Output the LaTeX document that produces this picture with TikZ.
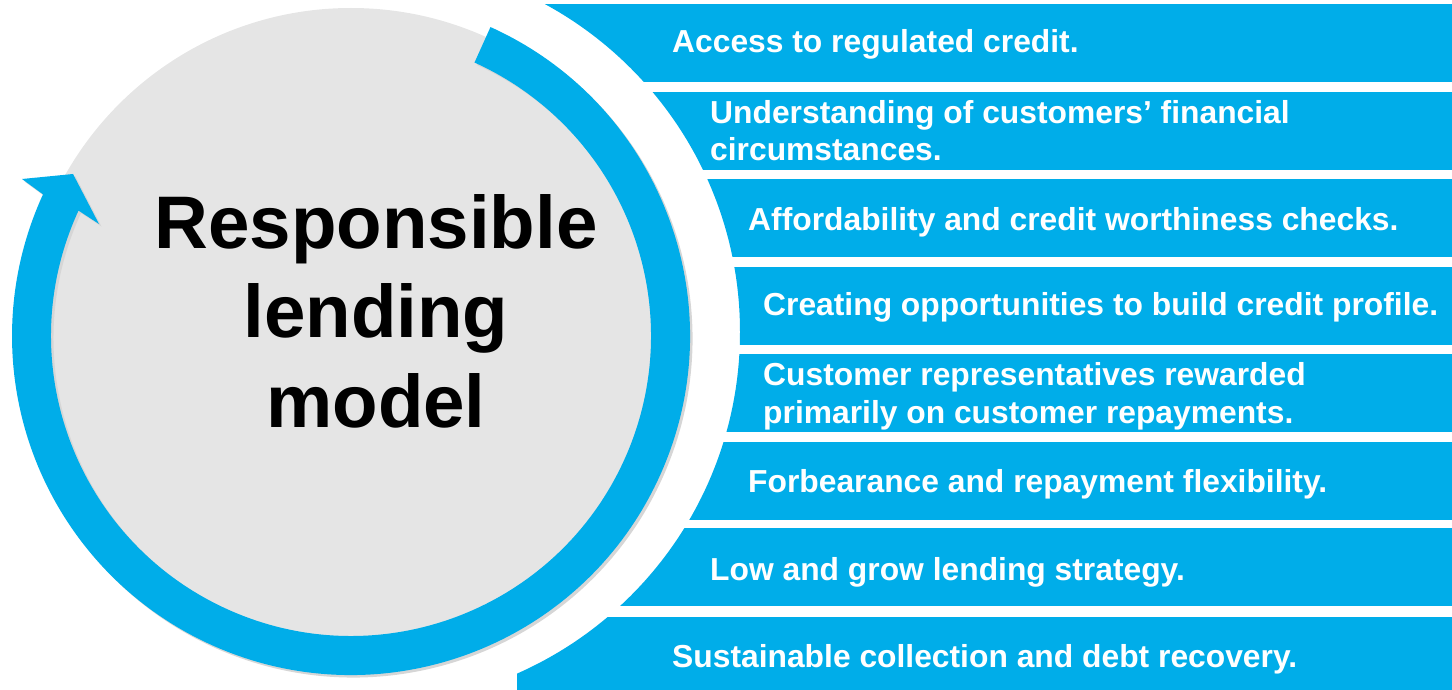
\documentclass[tikz,border=0pt]{standalone}
\usepackage{fontspec}
\setmainfont{Liberation Sans}
\definecolor{cblue}{HTML}{00ADE9}
\definecolor{cgrey}{HTML}{E5E5E5}
\definecolor{cshadow}{HTML}{D6D6D6}
\newcommand\myringpath{(351,336) ++(-65.7:339)
  arc[start angle=-65.7, end angle=204.7, radius=339]
  -- (22,179) -- (73,174) -- (99,224) -- (78.5,210.6)
  arc[start angle=204.7, end angle=-65.7, radius=300] -- cycle}
\begin{document}
\begin{tikzpicture}[x=1pt,y=-1pt,
  barfill/.style={fill=cblue},
  bartext/.style={text=white, font=\fontsize{31.8}{38}\selectfont\bfseries, anchor=base west, align=left, inner sep=0pt},
  titletext/.style={text=black, font=\fontsize{74.5}{89.5}\selectfont\bfseries, align=center, inner sep=0pt}]
\useasboundingbox (0,0) rectangle (1452,690);
% grey disc
\fill[cgrey] (351,336) circle[radius=328];
% ring with arrow
\fill[cshadow, shift={(2.5,2.5)}] \myringpath;
\fill[cblue] \myringpath;
% bars
\begin{scope}[even odd rule]
  \clip (0,-20) rectangle (1460,710) (367,332) circle[radius=373];
  \foreach \t in {4,92,179,267,354,442,528}{
    \fill[barfill] (400,\t) rectangle (1452,\t+78);
  }
  \fill[barfill] (1460,617) -- (400,617) -- (400,672) -- (517,672) -- (517,700) -- (1460,700) -- cycle;
\end{scope}
% texts (base anchor = baseline of the last line)
\node[bartext] (t1) at (672,53) {Access to regulated credit.};
\node[bartext] (t2) at (710,161) {Understanding of customers’ financial\\circumstances.};
\node[bartext] (t3) at (748,230) {Affordability and credit worthiness checks.};
\node[bartext] (t4) at (763,315) {Creating opportunities to build credit profile.};
\node[bartext] (t5) at (763,423) {Customer representatives rewarded\\primarily on customer repayments.};
\node[bartext] (t6) at (748,492) {Forbearance and repayment flexibility.};
\node[bartext] (t7) at (710,580) {Low and grow lending strategy.};
\node[bartext] (t8) at (672,667) {Sustainable collection and debt recovery.};
\node[titletext, anchor=base] (title) at (376,427) {Responsible\\lending\\model};
\end{tikzpicture}
\end{document}
